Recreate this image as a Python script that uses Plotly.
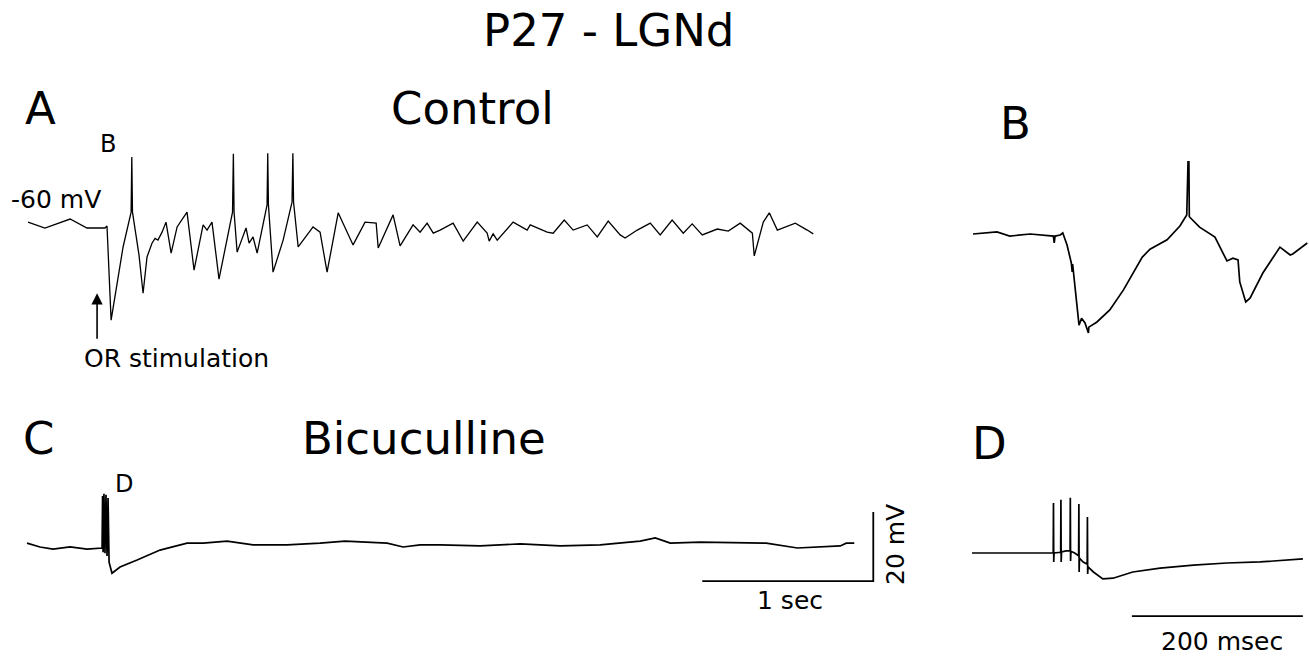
import plotly.graph_objects as go

# ---------------- data (time in ms, membrane potential in mV) ----------------
A_t = [0, 99, 246, 345, 450, 462, 486, 556, 603, 607,
       611, 649, 673, 696, 725, 743, 760, 784, 807, 837,
       872, 930, 971, 1024, 1047, 1076, 1117, 1196, 1201, 1205,
       1223, 1275, 1293, 1316, 1340, 1398, 1402, 1406, 1433, 1492,
       1544, 1549, 1553, 1580, 1667, 1708, 1749, 1814, 1901, 1971,
       2036, 2048, 2135, 2176, 2252, 2293, 2334, 2370, 2410, 2486,
       2545, 2627, 2685, 2697, 2720, 2744, 2837, 2919, 2937, 3036,
       3071, 3136, 3188, 3270, 3329, 3393, 3463, 3492, 3563, 3639,
       3697, 3767, 3832, 3884, 3943, 4031, 4095, 4165, 4236, 4247,
       4300, 4335, 4382, 4487, 4557, 4592]
A_v = [-58.3, -60, -57.4, -60, -60, -59.4, -86.7, -65.5, -55.4, -39.4,
       -55.4, -67.8, -78.9, -68.4, -64.4, -63, -63.5, -61.2, -58.3, -67.3,
       -59.7, -55.4, -72.2, -59.1, -60.6, -58.3, -74.8, -55.4, -38.5, -55.4,
       -67, -60, -64.4, -62.6, -67.3, -53.3, -38.3, -53.3, -72.8, -63.5,
       -52.5, -38.3, -52.5, -65.5, -59.7, -61.2, -72.8, -55.6, -64.9, -58.3,
       -58.6, -65.8, -56.2, -65.2, -59.1, -61.2, -58.6, -61.5, -60.6, -58.6,
       -63.8, -58.3, -61.5, -63.8, -61.7, -63.5, -58.3, -60.6, -59.1, -61.2,
       -61.5, -57.7, -60.6, -59.1, -62.6, -58, -62, -62.9, -60.6, -58.6,
       -62, -57.7, -61.5, -58.8, -62, -60.3, -60.9, -58.6, -61.5, -68.1,
       -58.3, -55.6, -60.6, -58.6, -60.6, -61.7]

B_t = [0, 28, 43, 67, 94, 95, 96, 102, 105, 110,
       115, 116, 116.5, 119, 124, 127, 131, 135, 135.5, 145,
       160, 176, 198, 207, 227, 242, 250, 251.5, 252.5, 253,
       265, 283, 289, 297, 304, 310, 312, 319, 324, 339,
       359, 371, 374, 391]
B_v = [-60, -59.4, -60.6, -60, -60.6, -62.6, -60.6, -60.3, -59.7, -63.2,
       -68.4, -71, -68.7, -74.2, -86.4, -84.4, -85.8, -88.7, -87, -85.5,
       -82, -76.2, -66.7, -64.4, -61.7, -57.7, -54.5, -39.1, -39.1, -55,
       -58, -60.9, -63.8, -67.8, -67, -67.5, -73.9, -79.7, -78.6, -71.3,
       -63.8, -66.1, -65.8, -62.6]

C_t = [0, 76, 152, 252, 351, 433, 439, 442, 445, 450,
       456, 462, 468, 474, 480, 497, 544, 644, 778, 936,
       1030, 1170, 1322, 1521, 1714, 1860, 2007, 2106, 2200, 2299,
       2416, 2650, 2884, 3118, 3352, 3586, 3674, 3762, 3937, 4323,
       4505, 4756, 4791, 4838]
C_v = [-58.6, -59.7, -60.3, -59.7, -60.3, -60, -60, -44.9, -61.2, -44.3,
       -61.5, -44.6, -62.3, -45.5, -64.1, -67.3, -65.5, -63.5, -60.6, -58.6,
       -58.6, -58, -59.1, -59.1, -58.6, -58, -58.3, -58.6, -59.7, -59.1,
       -59.1, -59.4, -58.8, -59.4, -59.1, -58, -57.1, -58.6, -58.3, -58.6,
       -60, -59.4, -58.6, -58.6]

D_t = [0, 44, 94, 95.0, 95.3, 95.6, 96, 103.7, 104.0, 104.3,
       104.7, 110, 114.7, 115.0, 115.3, 115.7, 120, 124.7, 125.0, 125.3,
       125.7, 130, 134.7, 135.0, 135.3, 135.7, 142, 153, 165, 188,
       220, 259, 298, 337, 387]
D_v = [-60, -60, -60, -60, -45.5, -62.6, -60, -59.8, -44.6, -62.6,
       -59.7, -59.4, -59.4, -44.0, -62.3, -59.5, -60, -60.8, -45.8, -65.5,
       -61.5, -62.6, -63.2, -49.6, -66.1, -64, -65.5, -67.5, -67.3, -65.5,
       -64.4, -63.5, -62.9, -62.6, -61.7]

SCALE_LONG_MS = 1000     # "1 sec"
SCALE_SHORT_MS = 200     # "200 msec"
SCALE_MV = 20            # "20 mV"
REST_MV = -60

# ---------------- layout geometry ----------------
W, H = 1309, 656
MV_PER_PX = 20 / 69.0
panels = {
    # box: (x0, x1, y0, y1) in pixels; org: pixel where t=0 and V=-60
    "A": dict(box=(0, 850, 128, 345), org=(28, 228), ms_per_px=1000 / 171.0),
    "B": dict(box=(950, 1309, 140, 345), org=(973, 234), ms_per_px=200 / 171.0),
    "C": dict(box=(0, 930, 470, 600), org=(27, 548), ms_per_px=1000 / 171.0),
    "D": dict(box=(950, 1309, 480, 628), org=(972, 553), ms_per_px=200 / 171.0),
}


def fx(px):
    return px / W


def fy(py):
    return 1 - py / H


fig = go.Figure()
names = ["A", "B", "C", "D"]
data = {"A": (A_t, A_v, 1.3), "B": (B_t, B_v, 1.7), "C": (C_t, C_v, 1.7), "D": (D_t, D_v, 1.7)}
for i, n in enumerate(names, start=1):
    p = panels[n]
    bx0, bx1, by0, by1 = p["box"]
    ox, oy = p["org"]
    xr = [(bx0 - ox) * p["ms_per_px"], (bx1 - ox) * p["ms_per_px"]]
    yr = [REST_MV - (by1 - oy) * MV_PER_PX, REST_MV - (by0 - oy) * MV_PER_PX]
    sfx = "" if i == 1 else str(i)
    fig.update_layout(**{
        "xaxis" + sfx: dict(domain=[fx(bx0), fx(bx1)], range=xr, visible=False,
                            anchor="y" + sfx, fixedrange=True),
        "yaxis" + sfx: dict(domain=[fy(by1), fy(by0)], range=yr, visible=False,
                            anchor="x" + sfx, fixedrange=True),
    })
    t, v, lw = data[n]
    fig.add_trace(go.Scatter(x=t, y=v, mode="lines", line=dict(color="black", width=lw),
                             xaxis="x" + sfx, yaxis="y" + sfx, showlegend=False,
                             hoverinfo="skip"))

# scale bars (panel C and D coordinates)
c_bar_t0, c_bar_v = 3949, -69.6
fig.add_trace(go.Scatter(
    x=[c_bar_t0, c_bar_t0 + SCALE_LONG_MS, c_bar_t0 + SCALE_LONG_MS],
    y=[c_bar_v, c_bar_v, c_bar_v + SCALE_MV], mode="lines",
    line=dict(color="black", width=1.8), xaxis="x3", yaxis="y3",
    showlegend=False, hoverinfo="skip"))
d_bar_t0, d_bar_v = 187, -78.3
fig.add_trace(go.Scatter(
    x=[d_bar_t0, d_bar_t0 + SCALE_SHORT_MS], y=[d_bar_v, d_bar_v], mode="lines",
    line=dict(color="black", width=1.8), xaxis="x4", yaxis="y4",
    showlegend=False, hoverinfo="skip"))

FONT = "DejaVu Sans"


def label(text, px, py, size, angle=0):
    fig.add_annotation(text=text, x=fx(px), y=fy(py), xref="paper", yref="paper",
                       showarrow=False, xanchor="center", yanchor="middle",
                       textangle=angle, font=dict(family=FONT, size=size, color="black"))


label("P27 - LGNd", 608, 31, 45)
label("A", 40, 108, 45)
label("Control", 472, 108, 45)
label("B", 1015, 123, 45)
label("C", 38, 438, 45)
label("Bicuculline", 424, 438, 45)
label("D", 989, 443, 45)
label("B", 108, 144, 24)
label("D", 124, 484, 24)
label("-60 mV", 56, 199, 25)
label("OR stimulation", 176, 358, 25)
label("1 sec", 790, 600, 25)
label("20 mV", 895, 545, 25, angle=-90)
label("200 msec", 1222, 641, 25)

# stimulation arrow (panel A coordinates)
fig.add_annotation(x=404, y=-78.9, ax=404, ay=-92.5, xref="x", yref="y",
                   axref="x", ayref="y", text="", showarrow=True,
                   arrowhead=2, arrowsize=1.4, arrowwidth=1.6, arrowcolor="black",
                   standoff=0, startstandoff=0)

fig.update_layout(width=W, height=H, margin=dict(l=0, r=0, t=0, b=0),
                  paper_bgcolor="white", plot_bgcolor="rgba(0,0,0,0)",
                  autosize=False)

fig.write_html("out.html", config={"displayModeBar": False},
               post_script="document.body.style.margin='0';document.body.style.overflow='hidden';")
